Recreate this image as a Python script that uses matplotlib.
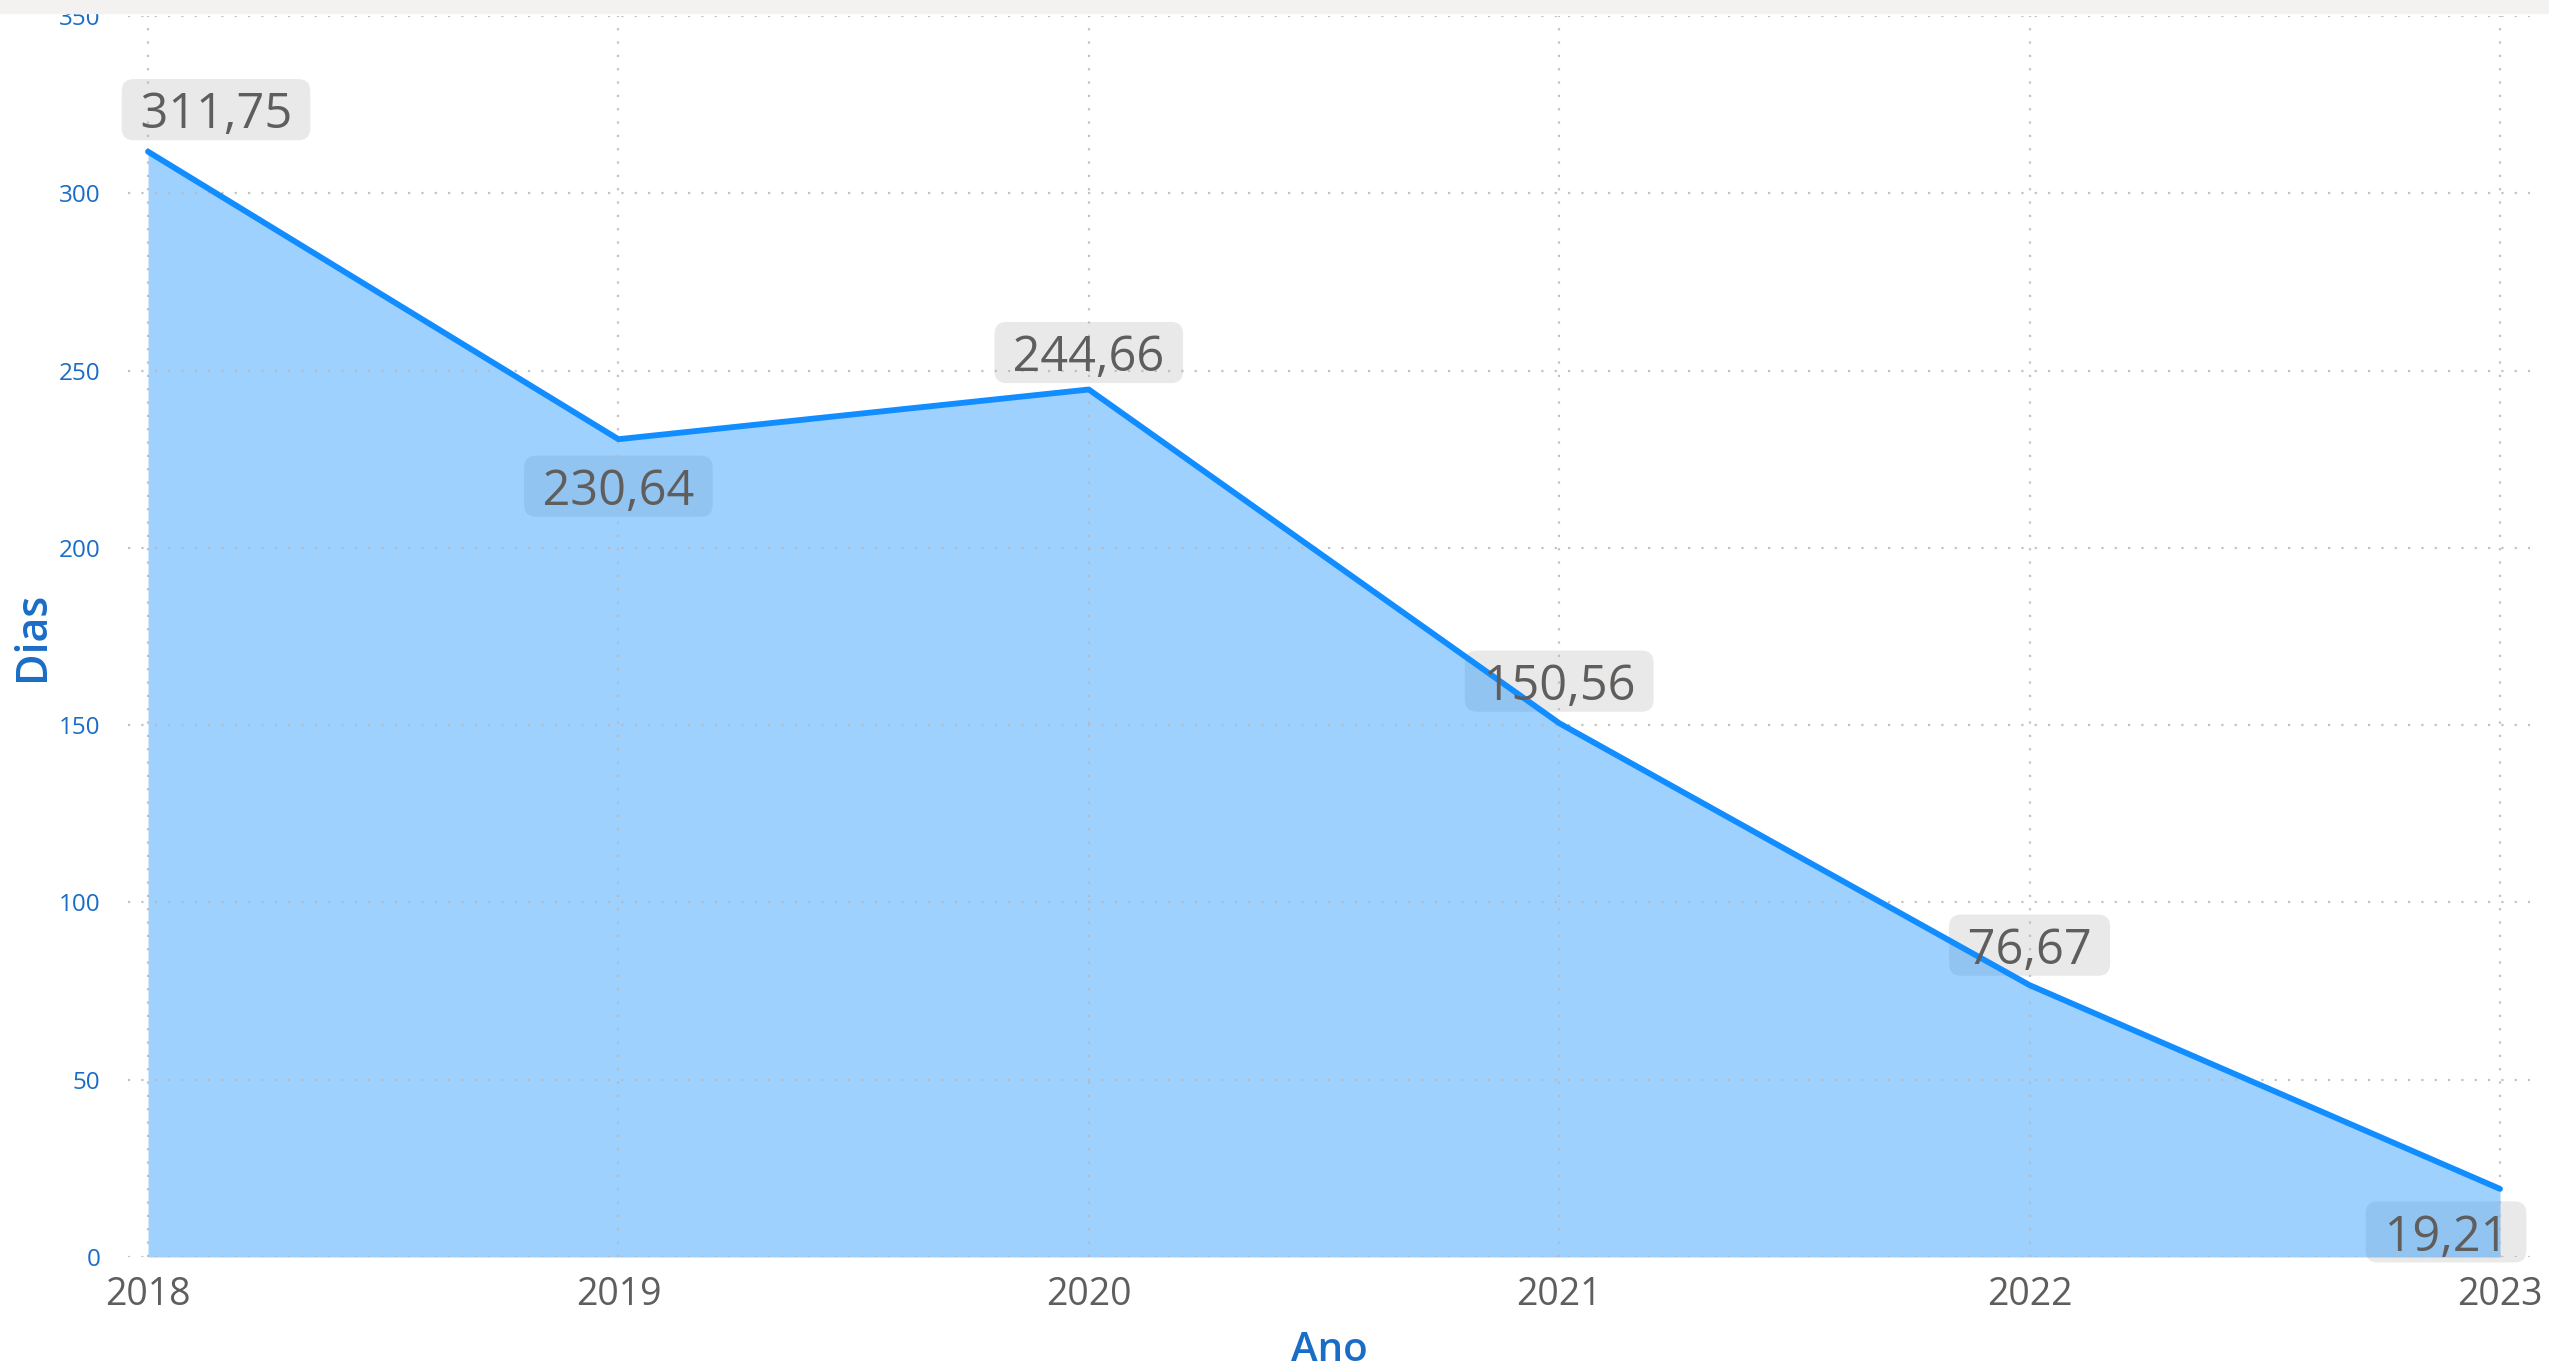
import matplotlib.pyplot as plt
from matplotlib.patches import Rectangle

# dados
anos = [2018, 2019, 2020, 2021, 2022, 2023]
dias = [311.75, 230.64, 244.66, 150.56, 76.67, 19.21]
yticks = [0, 50, 100, 150, 200, 250, 300, 350]

# deslocamento dos rótulos (pixels)
offsets = [(68, 44), (0, -45), (0, 39), (0, 44), (0, 42), (-54, -41)]

plt.rcParams['font.family'] = ['Open Sans', 'DejaVu Sans']

W, H = 2549, 1368
fig = plt.figure(figsize=(W / 100, H / 100), dpi=100)
ax = fig.add_axes([128 / W, 1 - 1257 / H, (2530 - 128) / W, (1257 - 16) / H])

azul = '#118DFF'
ax.fill_between(anos, dias, 0, color=azul, alpha=0.4, lw=0, zorder=1)
ax.plot(anos, dias, color=azul, lw=4.2, solid_capstyle='round', zorder=3)

ax.set_xlim(2018 - 20 / 470.4, 2023 + 30 / 470.4)
ax.set_ylim(0, 350)
ax.set_xticks(anos)
ax.set_yticks(yticks)
ax.tick_params(length=0)
ax.tick_params(axis='y', labelsize=17.5, labelcolor='#1a6dc6', pad=20)
ax.tick_params(axis='x', labelsize=27, labelcolor='#605e5c', pad=14)
for s in ax.spines.values():
    s.set_visible(False)

ax.set_axisbelow(False)
ax.grid(True, color='#b8b8b8', linestyle=(0, (1, 5)), lw=1.6, alpha=0.85)

ax.set_xlabel('Ano', fontsize=29, color='#1a6dc6', fontweight='semibold', labelpad=12)
ax.set_ylabel('Dias', fontsize=31, color='#1a6dc6', fontweight='semibold')
ax.yaxis.set_label_coords((54 - 128) / (2530 - 128), 0.5)

for x, y, (dx, dy) in zip(anos, dias, offsets):
    txt = " " + f"{y:.2f}".replace('.', ',') + " "
    # caixa por baixo da área, texto por cima
    ax.annotate(txt, (x, y), xytext=(dx, dy - 2), textcoords='offset pixels',
                ha='center', va='center', fontsize=35, color='none',
                bbox=dict(boxstyle='round,pad=0.12,rounding_size=0.25',
                          fc='#e9e9e9', ec='none'),
                zorder=0.5, annotation_clip=False)
    ax.annotate(txt, (x, y), xytext=(dx, dy - 8), textcoords='offset pixels',
                ha='center', va='center', fontsize=35, color='#605e5c',
                zorder=4, annotation_clip=False)

fig.patches.append(Rectangle((0, 1 - 13 / H), 1, 13 / H, transform=fig.transFigure,
                             color='#f3f2f1', zorder=0))

fig.savefig('out.png', dpi=100)
